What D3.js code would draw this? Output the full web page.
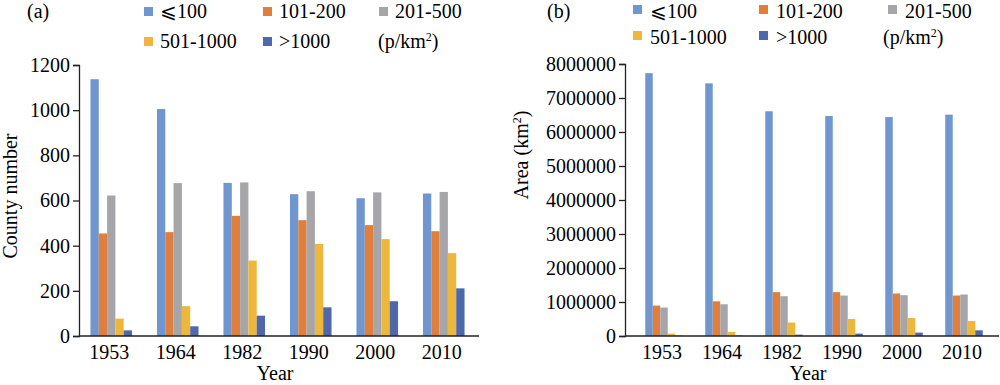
<!DOCTYPE html>
<html lang="en">

<head>
	<meta charset="utf-8">
	<title> County density bars </title>
	<script src="https://d3js.org/d3.v7.min.js"></script>
	<style type="text/css">
		body{ margin: 0; background-color: #ffffff; }
		svg{ display: block; background-color: #ffffff; }
		text{ font-family: "Liberation Serif", "Times New Roman", serif; fill: #000; }
	</style>
</head>

<body>
	<svg id="chart" width="1000" height="385"></svg>

	<script type="text/javascript">
	// data
	var years = ["1953", "1964", "1982", "1990", "2000", "2010"]
	var groups = ["\u2A7D100", "101-200", "201-500", "501-1000", ">1000"]
	var colorList = ["#7096cf", "#e07e3e", "#a6a6aa", "#ecb73a", "#4f68ac"]

	// (a) county number, one array per density class
	var countLe100 = [1137, 1005, 678, 628, 610, 631]
	var count101 = [454, 460, 532, 513, 491, 464]
	var count201 = [622, 677, 680, 641, 636, 638]
	var count501 = [77, 132, 334, 408, 429, 367]
	var countGt1000 = [25, 43, 90, 127, 154, 211]
	var countTicks = [0, 200, 400, 600, 800, 1000, 1200]

	// (b) area km2
	var areaLe100 = [7730000, 7430000, 6610000, 6470000, 6440000, 6510000]
	var area101 = [895000, 1020000, 1290000, 1290000, 1250000, 1190000]
	var area201 = [836000, 933000, 1170000, 1190000, 1200000, 1220000]
	var area501 = [70000, 118000, 395000, 500000, 530000, 442000]
	var areaGt1000 = [10000, 15000, 40000, 70000, 100000, 168000]
	var areaTicks = [0, 1000000, 2000000, 3000000, 4000000, 5000000, 6000000, 7000000, 8000000]

	var svg = d3.select("#chart")

	function drawPanel(opt) {
		var g = svg.append("g")

		var x = d3.scaleBand().domain(years).range([opt.bandLeft, opt.bandRight])
		var xs = d3.scaleBand().domain(d3.range(groups.length)).range([0, x.bandwidth()]).paddingOuter(1.5)
		var y = d3.scaleLinear().domain([0, opt.max]).range([opt.bottom, opt.top])

		// bars
		opt.series.forEach(function(vals, k){
			g.append("g")
				.selectAll("rect")
				.data(vals)
				.join("rect")
				.attr("x", (d, i) => x(years[i]) + xs(k))
				.attr("y", d => y(d))
				.attr("width", xs.bandwidth())
				.attr("height", d => y(0) - y(d))
				.attr("fill", colorList[k])
		})

		// y axis
		var yAxis = g.append("g")
			.attr("transform", "translate(" + opt.axisLeft + ",0)")
			.call(d3.axisLeft(y).tickValues(opt.ticks).tickSize(6).tickPadding(3).tickFormat(d3.format("d")))
		yAxis.selectAll("text").style("font-size", "20px")
		yAxis.selectAll("line, path").attr("stroke", "#222").attr("stroke-width", 1.3)

		// x axis: labels only, baseline drawn separately
		var xAxis = g.append("g")
			.attr("transform", "translate(0," + opt.bottom + ")")
			.call(d3.axisBottom(x).tickSize(0).tickPadding(9))
		xAxis.select(".domain").remove()
		xAxis.selectAll("text").style("font-size", "20px").attr("dx", -2)
		g.append("line")
			.attr("x1", opt.axisLeft).attr("x2", opt.axisRight)
			.attr("y1", opt.bottom).attr("y2", opt.bottom)
			.attr("stroke", "#222").attr("stroke-width", 1.3)

		// titles
		g.append("text")
			.attr("x", (opt.axisLeft + opt.axisRight) / 2 - 4)
			.attr("y", 380)
			.attr("text-anchor", "middle")
			.style("font-size", "20px")
			.text("Year")

		var yl = g.append("text")
			.attr("transform", "translate(" + opt.ylabX + "," + opt.ylabY + ") rotate(-90)")
			.attr("text-anchor", "middle")
			.style("font-size", "20px")
		yl.append("tspan").text(opt.ylab)
		if (opt.ylabSup) {
			yl.append("tspan").attr("baseline-shift", "super").style("font-size", "12px").text(opt.ylabSup)
			yl.append("tspan").text(")")
		}

		g.append("text")
			.attr("x", opt.tagX).attr("y", opt.tagY)
			.style("font-size", "20px")
			.text(opt.tag)

		// legend, two rows of three columns (rows are text baselines)
		var leg = g.append("g")
		groups.forEach(function(name, k){
			var col = k < 3 ? k : k - 3
			var row = k < 3 ? 0 : 1
			var lx = opt.legCols[col]
			var ly = opt.legRows[row]
			leg.append("rect")
				.attr("x", lx).attr("y", ly + opt.sqDy)
				.attr("width", 9).attr("height", 9)
				.attr("fill", colorList[k])
			leg.append("text")
				.attr("x", lx + opt.legGap).attr("y", ly)
				.style("font-size", "20px")
				.text(name)
		})
		var unit = leg.append("text")
			.attr("x", opt.legCols[2] + opt.unitDx).attr("y", opt.legRows[1])
			.style("font-size", "20px")
		unit.append("tspan").text("(p/km")
		unit.append("tspan").attr("baseline-shift", "super").style("font-size", "12px").text("2")
		unit.append("tspan").text(")")
	}

	drawPanel({
		series: [countLe100, count101, count201, count501, countGt1000],
		ticks: countTicks, max: 1200,
		top: 65, bottom: 336,
		axisLeft: 79, axisRight: 479,
		bandLeft: 78, bandRight: 477,
		ylab: "County number", ylabX: 17, ylabY: 196,
		tag: "(a)", tagX: 27, tagY: 18,
		legCols: [144, 263, 379], legRows: [18, 48], sqDy: -11, legGap: 16, unitDx: -1
	})

	drawPanel({
		series: [areaLe100, area101, area201, area501, areaGt1000],
		ticks: areaTicks, max: 8000000,
		top: 64, bottom: 336,
		axisLeft: 625, axisRight: 999,
		bandLeft: 634, bandRight: 994,
		ylab: "Area (km", ylabSup: "2", ylabX: 528, ylabY: 155,
		tag: "(b)", tagX: 547, tagY: 18,
		legCols: [633, 759, 888], legRows: [18, 44], sqDy: -13, legGap: 17, unitDx: -5
	})
	</script>
</body>
</html>
